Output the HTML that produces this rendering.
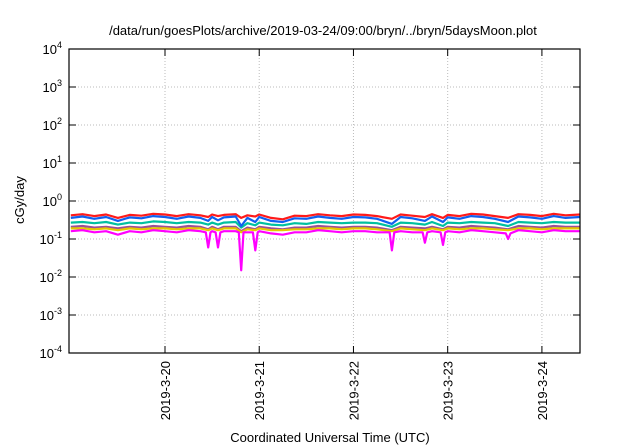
<!DOCTYPE html>
<html><head><meta charset="utf-8"><style>
body{margin:0;background:#fff}
svg{display:block;font-family:"Liberation Sans",sans-serif}
</style></head><body>
<svg id="c" width="640" height="448">
<text x="323" y="35" font-size="13" text-anchor="middle">/data/run/goesPlots/archive/2019-03-24/09:00/bryn/../bryn/5daysMoon.plot</text>
<text x="330" y="442" font-size="13" text-anchor="middle">Coordinated Universal Time (UTC)</text>
<text transform="translate(24,200) rotate(-90)" font-size="13" text-anchor="middle">cGy/day</text>
<g id="grid"></g><g id="series"></g><g id="axes"></g>
</svg>
<script>
const yExps=[-4,-3,-2,-1,0,1,2,3,4];
const dateLabels=["2019-3-20","2019-3-21","2019-3-22","2019-3-23","2019-3-24"];
const dateHours=[24,48,72,96,120];
const times=[0,3,6,9,12,15,18,21,24,27,30,33,35,36,37.5,39,42,43.4,45,47,48,51,54,57,60,63,66,69,72,75,78,81.8,84,87,90.2,92,94.8,96,99,102,105,108,111.4,114,117,120,123,126,129.7];
const red=[0.42,0.45,0.40,0.44,0.36,0.43,0.41,0.46,0.44,0.40,0.45,0.42,0.38,0.44,0.40,0.43,0.45,0.36,0.42,0.39,0.44,0.36,0.33,0.41,0.40,0.45,0.42,0.40,0.44,0.43,0.40,0.34,0.44,0.41,0.38,0.45,0.36,0.43,0.40,0.46,0.44,0.40,0.36,0.45,0.43,0.40,0.46,0.42,0.44];
const blue=[0.36,0.39,0.34,0.38,0.30,0.37,0.35,0.40,0.38,0.34,0.39,0.36,0.30,0.38,0.31,0.37,0.39,0.22,0.36,0.28,0.38,0.30,0.28,0.35,0.34,0.39,0.36,0.34,0.38,0.37,0.34,0.25,0.38,0.35,0.30,0.39,0.28,0.37,0.34,0.40,0.38,0.34,0.28,0.39,0.37,0.34,0.40,0.36,0.38];
const teal=[0.27,0.28,0.26,0.28,0.24,0.27,0.26,0.29,0.28,0.26,0.28,0.27,0.24,0.27,0.24,0.27,0.28,0.20,0.26,0.23,0.27,0.24,0.23,0.26,0.25,0.28,0.27,0.26,0.27,0.27,0.26,0.21,0.27,0.26,0.24,0.28,0.22,0.27,0.26,0.28,0.27,0.26,0.22,0.28,0.27,0.26,0.28,0.27,0.27];
const purple=[0.21,0.22,0.20,0.21,0.19,0.21,0.20,0.22,0.21,0.20,0.22,0.21,0.18,0.21,0.18,0.21,0.21,0.16,0.20,0.18,0.21,0.19,0.18,0.20,0.20,0.22,0.21,0.20,0.21,0.21,0.20,0.17,0.21,0.20,0.19,0.21,0.18,0.21,0.20,0.22,0.21,0.20,0.18,0.22,0.21,0.20,0.22,0.21,0.21];
const yellow=[0.19,0.19,0.18,0.19,0.17,0.19,0.18,0.19,0.19,0.18,0.19,0.19,0.17,0.19,0.17,0.19,0.19,0.15,0.18,0.17,0.19,0.17,0.17,0.18,0.18,0.19,0.19,0.18,0.19,0.19,0.18,0.16,0.19,0.18,0.17,0.19,0.17,0.19,0.18,0.19,0.19,0.18,0.17,0.19,0.19,0.18,0.19,0.19,0.19];
const magTimes=[0,3,6,9,12,15,18,21,24,27,30,33,34.4,35,35.6,36,36.9,37.5,38.1,39,42,42.8,43.4,44,45,46.4,47,47.6,48,51,54,57,60,63,66,69,72,75,78,81.2,81.8,82.4,84,87,89.6,90.2,90.8,92,94.2,94.8,95.4,96,99,102,105,108,110.8,111.4,112,114,117,120,123,126,129.7];
const magenta=[0.16,0.17,0.15,0.16,0.13,0.16,0.15,0.17,0.16,0.15,0.17,0.16,0.15,0.06,0.15,0.16,0.15,0.06,0.15,0.16,0.16,0.15,0.015,0.15,0.15,0.15,0.05,0.15,0.16,0.14,0.13,0.15,0.15,0.17,0.16,0.15,0.16,0.16,0.15,0.15,0.05,0.15,0.16,0.15,0.15,0.08,0.15,0.16,0.15,0.07,0.15,0.16,0.15,0.17,0.16,0.15,0.14,0.10,0.14,0.17,0.16,0.15,0.17,0.16,0.16];
const seriesList=[["purple",times,purple,"#9b4f96"],["yellow",times,yellow,"#e6c800"],["magenta",magTimes,magenta,"#ff00ff"],["teal",times,teal,"#00c0a0"],["red",times,red,"#ff1a1a"],["blue",times,blue,"#1060f0"]];
const L=69,R=580,T=49,B=353;
const xs=h=>L+(h+0.45)/130.15*(R-L);
const ys=v=>B-(Math.log10(v)+4)/8*(B-T);
const NS="http://www.w3.org/2000/svg";
function mk(p,t,a){const e=document.createElementNS(NS,t);for(const k in a)e.setAttribute(k,a[k]);p.appendChild(e);return e;}
const grid=document.getElementById('grid'),axes=document.getElementById('axes'),ser=document.getElementById('series');
yExps.forEach(e=>{const y=B-(e+4)/8*(B-T);
 if(e>-4&&e<4){const g=mk(grid,'line',{x1:L,x2:R,y1:y,y2:y,stroke:'#bbb','stroke-dasharray':'1,2'});
 
 }
 mk(axes,'line',{x1:L,x2:L+7,y1:y,y2:y,stroke:'#000'});mk(axes,'line',{x1:R,x2:R-7,y1:y,y2:y,stroke:'#000'});
 const t=mk(axes,'text',{x:62,y:y+5,'font-size':13,'text-anchor':'end'});
 
 
 t.appendChild(document.createTextNode('10'));
 const s=mk(t,'tspan',{dy:-6,'font-size':9});s.textContent=String(e);
});
dateHours.forEach((h,i)=>{const x=xs(h);
 const g=mk(grid,'line',{x1:x,x2:x,y1:T,y2:B,stroke:'#bbb','stroke-dasharray':'1,2'});
 
 
 mk(axes,'line',{x1:x,x2:x,y1:B,y2:B-7,stroke:'#000'});mk(axes,'line',{x1:x,x2:x,y1:T,y2:T+7,stroke:'#000'});
 const t=mk(axes,'text',{transform:`translate(${x+5},361) rotate(-90)`,'font-size':13,'text-anchor':'end'});
 
 
 t.textContent=dateLabels[i];
});
seriesList.forEach(([n,tt,vals,c])=>{
 const d=vals.map((v,i)=>(i?'L':'M')+xs(tt[i]).toFixed(1)+','+ys(v).toFixed(1)).join('');
 const p=mk(ser,'path',{d:d,fill:'none',stroke:c,'stroke-width':2.2,'stroke-linejoin':'round'});
 
 
});
const fr=mk(axes,'rect',{x:L,y:T,width:R-L,height:B-T,fill:'none',stroke:'#000','stroke-width':1.2});


</script>
</body></html>
